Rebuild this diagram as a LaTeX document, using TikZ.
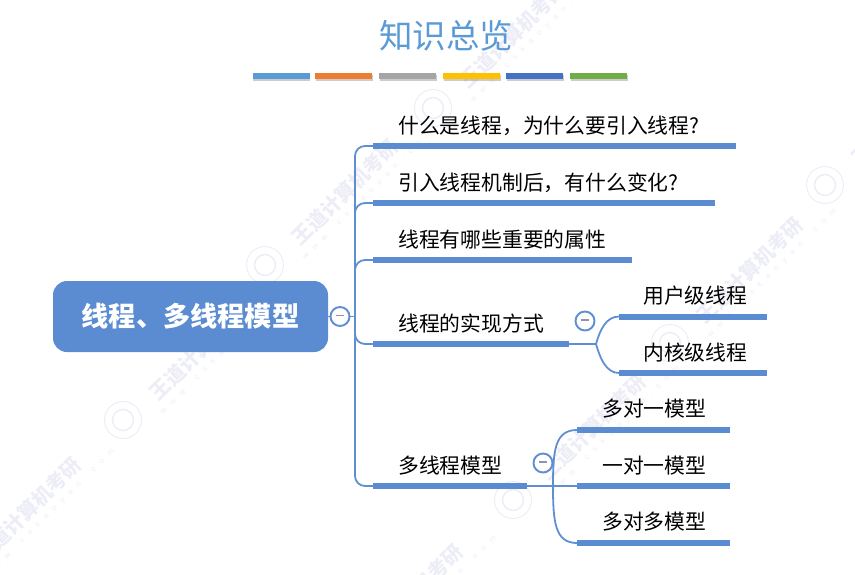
\documentclass[tikz,border=0pt]{standalone}
\usepackage{fontspec}
\setmainfont{Noto Sans CJK SC}
\newfontfamily\markfont[LetterSpace=90]{Liberation Sans}
\usetikzlibrary{shadows}
\definecolor{mapblue}{HTML}{5B8BD0}
\definecolor{mapline}{HTML}{5F8FD2}
\definecolor{minusgray}{HTML}{8E92B8}
\definecolor{markfaint}{HTML}{EDEDF7}
\definecolor{titleblue}{HTML}{5B9BD5}
\tikzset{
  topic/.style={anchor=west,inner sep=0pt,font=\fontsize{20.8}{20.8}\selectfont,text=black},
  bar/.style={draw=none,fill=mapblue,inner sep=0pt,minimum height=6pt,anchor=west},
  colorbar/.style={draw=none,inner sep=0pt,minimum height=6pt,minimum width=57pt,drop shadow={opacity=0.4,shadow xshift=0.5pt,shadow yshift=-1.5pt}},
  link/.style={draw=mapline,line width=1.8pt},
  fold/.style={circle,draw=mapline,line width=1.9pt,fill=white,minimum size=19pt,inner sep=0pt},
  markmain/.style={text=markfaint,rotate=45,font=\fontsize{20}{20}\selectfont\bfseries,inner sep=0pt},
  marksub/.style={text=markfaint,rotate=45,font=\fontsize{8}{8}\selectfont\markfont,inner sep=0pt},
  markring/.style={circle,draw=markfaint,line width=1pt,minimum size=37pt,inner sep=0pt},
  markcore/.style={circle,draw=markfaint,line width=1.5pt,minimum size=21pt,inner sep=0pt},
  markgroup/.pic={
    \node[markring] (-ring) at (0,0) {};
    \node[markcore] (-core) at (0,0) {};
    \node[markmain] (-main) at (80,-73) {王道计算机考研};
    \node[marksub] (-sub) at (102,-70) {www.cskaoyan.com};
  }
}
\newcommand{\foldminus}{\textcolor{minusgray}{\rule[2pt]{8pt}{1.8pt}}}
\begin{document}
\begin{tikzpicture}[x=1pt,y=-1pt]
  \useasboundingbox (0,0) rectangle (855,574);
  \clip (0,0) rectangle (855,574);
  % watermark
  \pic (wa) at (265,265) {markgroup};
  \pic (wb) at (123,420) {markgroup};
  \pic (wc) at (-52,583) {markgroup};
  \pic (wd) at (433,108) {markgroup};
  \pic (we) at (825,185) {markgroup};
  \pic (wf) at (670,343) {markgroup};
  \pic (wg) at (513,500) {markgroup};
  \pic (wh) at (330,670) {markgroup};
  % title
  \node[inner sep=0pt,font=\fontsize{33.5}{33.5}\selectfont,text=titleblue] (title) at (446,36) {知识总览};
  \node[colorbar,fill={rgb,255:red,91;green,155;blue,213}] (c1) at (281,76) {};
  \node[colorbar,fill={rgb,255:red,237;green,125;blue,49}] (c2) at (343.5,76) {};
  \node[colorbar,fill={rgb,255:red,165;green,165;blue,165}] (c3) at (407.5,76) {};
  \node[colorbar,fill={rgb,255:red,255;green,192;blue,0}] (c4) at (471.5,76) {};
  \node[colorbar,fill={rgb,255:red,68;green,114;blue,196}] (c5) at (534.5,76) {};
  \node[colorbar,fill={rgb,255:red,112;green,173;blue,71}] (c6) at (598.5,76) {};
  % root
  \node[fill=mapblue,rounded corners=14pt,minimum width=275pt,minimum height=71pt,inner sep=0pt,text=white,font=\fontsize{27.2}{27.2}\selectfont\bfseries] (root) at (190.5,316.5) {线程、多线程模型};
  \coordinate (hub) at (355,316.5);
  % first level
  \node[bar,minimum width=363pt] (b1) at (373,146) {};
  \node[bar,minimum width=342pt] (b2) at (373,203) {};
  \node[bar,minimum width=259pt] (b3) at (373,260) {};
  \node[bar,minimum width=196pt] (b4) at (373,344) {};
  \node[bar,minimum width=154pt] (b5) at (373,486) {};
  \node[topic] (t1) at (398,125.5) {什么是线程，为什么要引入线程?};
  \node[topic] (t2) at (398,182.5) {引入线程机制后，有什么变化?};
  \node[topic] (t3) at (398,239.5) {线程有哪些重要的属性};
  \node[topic] (t4) at (398,323.5) {线程的实现方式};
  \node[topic] (t5) at (398,465.5) {多线程模型};
  % second level
  \coordinate (hub4) at (596,344);
  \coordinate (hub5) at (553,486);
  \node[bar,minimum width=148pt] (b41) at (619,316.5) {};
  \node[bar,minimum width=148pt] (b42) at (619,373) {};
  \node[bar,minimum width=153pt] (b51) at (577,430) {};
  \node[bar,minimum width=153pt] (b52) at (577,486) {};
  \node[bar,minimum width=153pt] (b53) at (577,543) {};
  \node[topic] (t41) at (643,295.5) {用户级线程};
  \node[topic] (t42) at (643,352.5) {内核级线程};
  \node[topic] (t51) at (602,408.5) {多对一模型};
  \node[topic] (t52) at (602,465.5) {一对一模型};
  \node[topic] (t53) at (602,521.5) {多对多模型};
  % links
  \begin{scope}[rounded corners=10pt]
    \draw[link] (hub) |- (b1.west);
    \draw[link] (hub) |- (b2.west);
    \draw[link] (hub) |- (b3.west);
    \draw[link] (hub) |- (b4.west);
    \draw[link] (hub) |- (b5.west);
  \end{scope}
  \draw[link] (root.east) -- (hub);
  \draw[link] (b4.east) -- (hub4);
  \draw[link] (b5.east) -- (b52.west);
  \draw[link] (hub4) .. controls (600,330) and (606,316.5) .. (b41.west);
  \draw[link] (hub4) .. controls (600,358) and (606,373) .. (b42.west);
  \draw[link] (hub5) .. controls (553,450) and (555,430) .. (b51.west);
  \draw[link] (hub5) .. controls (553,522) and (555,543) .. (b53.west);
  % fold buttons
  \node[fold] (f0) at (340,316.5) {\foldminus};
  \node[fold] (f4) at (585,321) {\foldminus};
  \node[fold] (f5) at (543,463) {\foldminus};
\end{tikzpicture}
\end{document}
